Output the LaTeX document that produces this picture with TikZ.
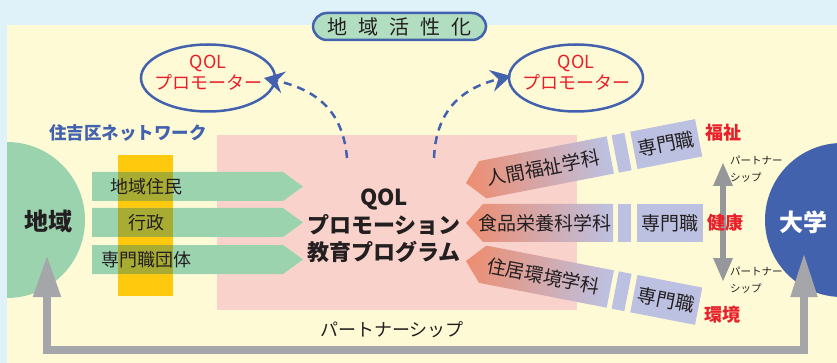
\documentclass[tikz,border=0pt]{standalone}
\usepackage{fontspec}
\newfontfamily\jp{Noto Sans CJK JP}
\usetikzlibrary{arrows.meta,shapes.geometric}
\definecolor{bgblue}{HTML}{DFF2FA}
\definecolor{cream}{HTML}{FFFAD6}
\definecolor{ggreen}{HTML}{9BD3AF}
\definecolor{yellowc}{HTML}{FFC90D}
\definecolor{olivec}{HTML}{A9AC33}
\definecolor{pinkc}{HTML}{F9D3CB}
\definecolor{salmon}{HTML}{EE8D6F}
\definecolor{lav}{HTML}{BCC1E2}
\definecolor{blueC}{HTML}{4262AE}
\definecolor{redC}{HTML}{E8202A}
\definecolor{grayC}{HTML}{A5A6AA}
\definecolor{grayD}{HTML}{96979B}
\definecolor{pillG}{HTML}{B1DDC1}
\definecolor{txt}{HTML}{231F20}
\tikzset{
  lbl/.style={inner sep=0pt, text=txt, font=\jp\fontsize{18}{22}\selectfont},
  rowlbl/.style={inner sep=0pt, text=txt, font=\jp\fontsize{19}{22}\selectfont},
  redlbl/.style={inner sep=0pt, text=redC, font=\jp\bfseries\fontsize{18}{22}\selectfont},
  small/.style={inner sep=0pt, text=txt, align=left, font=\jp\fontsize{10.5}{17}\selectfont},
  qolell/.style={ellipse, draw=blueC, line width=2.5pt, fill=cream, minimum width=134pt, minimum height=67pt, inner sep=0pt},
  qoltxt/.style={inner sep=0pt, text=redC, align=center, font=\jp\fontsize{18}{21}\selectfont},
  dasharrow/.style={draw=blueC, line width=2.5pt, dash pattern=on 8pt off 6pt, -{Stealth[length=20pt,width=22pt,inset=7pt]}},
}
\begin{document}
\begin{tikzpicture}[x=1pt,y=-1pt]
\useasboundingbox (0,0) rectangle (837,363);
\fill[bgblue] (0,0) rectangle (837,363);
\fill[cream] (7,25) rectangle (837,363);
% left circle
\begin{scope}
\clip (7,25) rectangle (837,363);
\node[circle, fill=ggreen, minimum size=156pt, inner sep=0pt] (leftc) at (7,220) {};
\end{scope}
\node[lbl, font=\jp\bfseries\fontsize{24}{28}\selectfont] (chiiki) at (48,221) {地域};
% pink area
\fill[pinkc] (217,135) rectangle (577,310);
% yellow bar
\fill[yellowc] (118,155) rectangle (173,296);
% green arrows
\foreach \y/\t/\n in {186.5/地域住民/ra, 222.5/行政/rb, 259.5/専門職団体/rc}{
  \fill[ggreen] (92,\y-14.5) -- (283,\y-14.5) -- (303,\y) -- (283,\y+14.5) -- (92,\y+14.5) -- cycle;
  \fill[olivec] (118,\y-14.5) rectangle (173,\y+14.5);
  \node[lbl] (\n) at (146,\y) {\t};
}
\node[inner sep=0pt, text=blueC, font=\jp\bfseries\fontsize{17.5}{20}\selectfont] (net) at (128,133) {住吉区ネットワーク};
% center program
\node[inner sep=0pt, text=txt, align=center, font=\jp\bfseries\fontsize{22}{27.5}\selectfont] (prog) at (384,226) {QOL\\プロモーション\\教育プログラム};
% right rows
\foreach \ang/\ty/\t/\n in {11/183/人間福祉学科/sa, 0/223/食品栄養科学科/sb, -11/261/住居環境学科/sc}{
  \begin{scope}[transform canvas={rotate around={\ang:(466,\ty)}}]
    \shade[left color=salmon, right color=lav] (466,\ty) -- (483,\ty-19) -- (613,\ty-19) -- (613,\ty+19) -- (483,\ty+19) -- cycle;
    \fill[lav] (618,\ty-19) rectangle (631,\ty+19);
    \fill[lav] (637,\ty-19) rectangle (703,\ty+19);
    \node[rowlbl] (\n) at (545,\ty) {\t};
    \node[rowlbl] (\n p) at (670,\ty) {専門職};
  \end{scope}
}
% right circle
\node[circle, fill=blueC, minimum size=154pt, inner sep=0pt] (rightc) at (842,220) {};
\node[inner sep=0pt, text=white, font=\jp\bfseries\fontsize{24}{28}\selectfont] (daigaku) at (803,222) {大学};
% vertical partnership arrow
\coordinate (pa) at (723,162);
\coordinate (pb) at (723,282);
\draw[grayD, line width=6pt, {Triangle[length=24pt,width=18pt]}-{Triangle[length=24pt,width=18pt]}] (pa) -- (pb);
\node[small, anchor=west] (pt1) at (730,169.5) {パートナー\\シップ};
\node[small, anchor=west] (pt2) at (730,280) {パートナー\\シップ};
% red field labels
\node[redlbl] (fuku) at (723,133) {福祉};
\node[redlbl] (kenko) at (725,223) {健康};
\node[redlbl] (kankyo) at (722,315) {環境};
% bottom partnership arrow
\coordinate (lt) at (47,255);
\coordinate (rt) at (804,253);
\draw[grayC, line width=8pt, {Triangle[length=42pt,width=26pt]}-{Triangle[length=44pt,width=25pt]}] (lt) -- (47,350) -- (804,350) -- (rt);
\node[lbl] (bottomlbl) at (392,330) {パートナーシップ};
% title pill
\node[draw=blueC, line width=2.5pt, fill=pillG, rounded corners=14pt, minimum width=173pt, minimum height=27pt, inner sep=0pt, text=txt, font=\jp\fontsize{20}{22}\selectfont] (title) at (399.5,26.5) {地\hspace{11pt}域\hspace{11pt}活\hspace{11pt}性\hspace{11pt}化};
% QOL promoter ellipses
\node[qolell] (qolL) at (208,78) {};
\node[qoltxt] (qolLt) at (208,72.5) {QOL\\プロモーター};
\node[qolell] (qolR) at (576,78) {};
\node[qoltxt] (qolRt) at (576,72.5) {QOL\\プロモーター};
% dashed arrows
\coordinate (dl) at (347,158);
\coordinate (dr) at (434,158);
\coordinate (tl) at (264,78);
\coordinate (tr) at (511,76);
\draw[dasharrow] (dl) .. controls (343,112) and (318,90) .. (tl);
\draw[dasharrow] (dr) .. controls (436,110) and (462,88) .. (tr);
\end{tikzpicture}
\end{document}
